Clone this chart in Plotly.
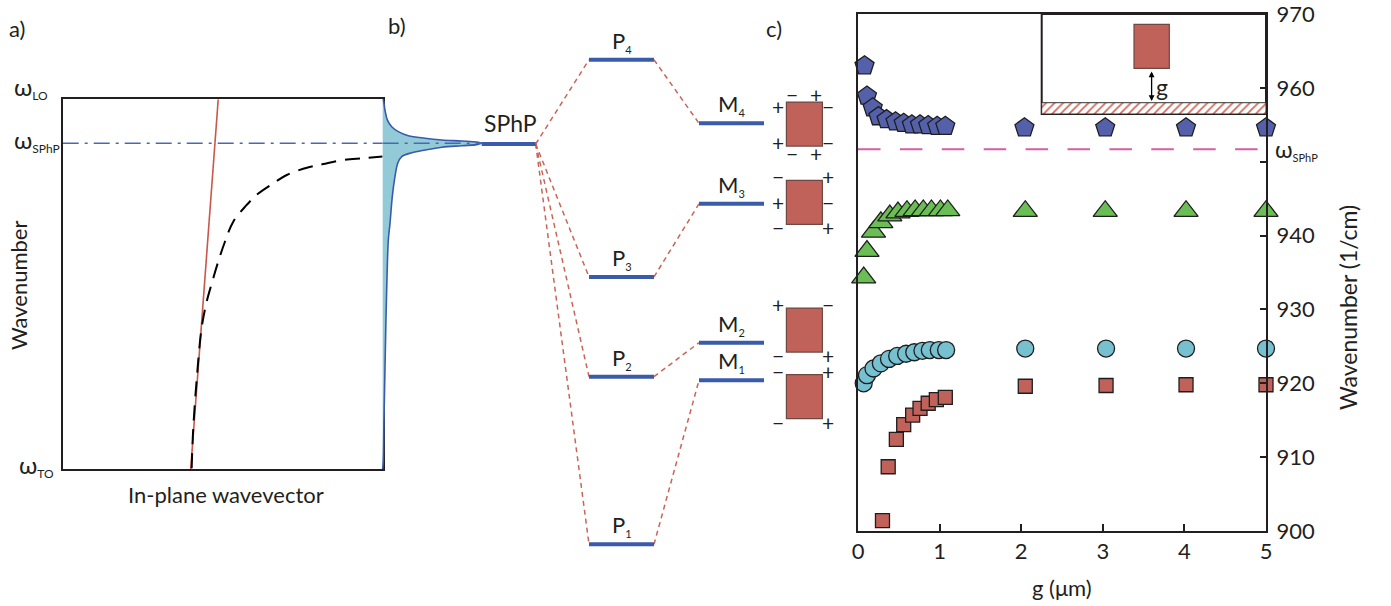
import plotly.graph_objects as go

W, H = 1391, 606
FONT = "Lato"
INK = "#231F20"
BLUE = "#3A5BA9"
RED_DASH = "#C8655B"
BRICK = "#C0625A"
BRICK_EDGE = "#6E4843"


def fx(p):
    return p / W


def fy(p):
    return 1 - p / H


# ======================= DATA =======================
# panel a : schematic dispersion inside the reststrahlen band (1/cm)
omega_TO, omega_LO, omega_SPhP_a = 797.0, 970.0, 949.4
light_k = [0.400, 0.486]
light_w = [797.0, 970.0]
sphp_k = [0.403, 0.408, 0.419, 0.434, 0.450, 0.466, 0.486, 0.507, 0.533,
          0.575, 0.606, 0.658, 0.700, 0.763, 0.814, 0.877, 0.939, 1.000]
sphp_w = [797.5, 816.2, 839.5, 862.9, 875.4, 884.0, 894.1, 903.4, 912.8,
          920.6, 925.3, 930.7, 934.6, 938.0, 939.7, 941.6, 942.4, 943.2]
# SPhP resonance (normalised intensity vs wavenumber), outline of the filled peak
spec_w = [970.0, 969.7, 965.0, 960.4, 957.2, 954.9, 953.0, 951.8, 951.0, 950.5, 950.0, 949.4,
          948.8, 948.3, 947.6, 946.3, 945.0, 943.2, 940.1, 933.8, 924.5, 912.0, 904.2,
          885.5, 866.8, 843.4, 820.1, 801.3, 797.0]
spec_I = [0.0, 0.006, 0.023, 0.047, 0.091, 0.158, 0.259, 0.428, 0.597, 0.800, 0.95, 1.0,
          0.95, 0.80, 0.597, 0.428, 0.294, 0.192, 0.152, 0.124, 0.097, 0.074, 0.057,
          0.043, 0.033, 0.023, 0.013, 0.006, 0.0]

# panel b : level diagram (1/cm)
sphp_level = 952.4
p_levels = [898.2, 920.9, 934.4, 963.8]          # P1..P4
m_levels = [920.4, 925.5, 944.3, 955.2]          # M1..M4
level_idx = ["1", "2", "3", "4"]
mode_box_w = [918.2, 927.2, 944.5, 955.1]        # block icons for M1..M4
mode_signs = [
    [("lt", "−"), ("rt", "+"), ("lb", "−"), ("rb", "+")],
    [("lt", "+"), ("rt", "−"), ("lb", "−"), ("rb", "+")],
    [("lt", "−"), ("lm", "+"), ("lb", "−"), ("rt", "+"), ("rm", "−"), ("rb", "+")],
    [("lu", "+"), ("ld", "+"), ("ru", "−"), ("rd", "−"),
     ("tl", "−"), ("tr", "+"), ("bl", "−"), ("br", "+")],
]

# panel c : mode wavenumber vs gap g
omega_SPhP_c = 951.7
g_pent = [0.08, 0.11, 0.18, 0.25, 0.35, 0.46, 0.56, 0.66, 0.76, 0.86, 0.97, 1.07, 2.04, 3.03, 4.02, 5.0]
w_pent = [963.0, 958.9, 957.3, 956.1, 955.7, 955.4, 955.2, 955.0, 955.0, 954.9, 954.8, 954.8,
          954.6, 954.6, 954.6, 954.6]
g_tri = [0.07, 0.11, 0.19, 0.28, 0.39, 0.49, 0.60, 0.70, 0.80, 0.90, 1.01, 1.10, 2.05, 3.03, 4.02, 5.0]
w_tri = [934.3, 937.9, 940.5, 941.8, 942.7, 943.1, 943.3, 943.4, 943.4, 943.4, 943.4, 943.4,
         943.3, 943.3, 943.3, 943.3]
g_circ = [0.07, 0.11, 0.19, 0.28, 0.38, 0.48, 0.59, 0.69, 0.79, 0.88, 0.99, 1.08, 2.05, 3.04, 4.02, 5.0]
w_circ = [920.0, 921.1, 922.0, 922.7, 923.3, 923.7, 924.0, 924.2, 924.4, 924.5, 924.5, 924.5,
          924.7, 924.7, 924.7, 924.7]
g_sq = [0.30, 0.37, 0.47, 0.56, 0.67, 0.76, 0.86, 0.96, 1.07, 2.05, 3.04, 4.02, 5.0]
w_sq = [901.4, 908.7, 912.4, 914.4, 915.7, 916.6, 917.3, 917.8, 918.1, 919.6, 919.7, 919.8, 919.8]
x_ticks = [0, 1, 2, 3, 4, 5]
y_ticks = [900, 910, 920, 930, 940, 950, 960, 970]
y_ticktext = ["900", "910", "920", "930", "940", "", "960", "970"]

# ======================= LAYOUT CONSTANTS =======================
PXU = 517 / 70.0                                  # px per 1/cm in panels b and c
Y2 = [970 - (H - 14) / PXU, 970 + 14 / PXU]
SPHP_COL = (481.7, 535.7)
P_COL = (589.0, 654.0)
M_COL = (699.0, 764.0)
BOX_CX, BOX_W, BOX_H = 804.4, 36.0, 44.0
SIGN_POS = {
    "lt": (-26, -25.5), "lm": (-26, 0), "lb": (-26, 25.5),
    "rt": (24, -25.5), "rm": (24, 0), "rb": (24, 25.5),
    "lu": (-26, -18), "ld": (-26, 18), "ru": (24, -18), "rd": (24, 18),
    "tl": (-12, -29.7), "tr": (11.6, -29.7), "bl": (-12, 29.3), "br": (11.6, 29.3),
}

fig = go.Figure()

# ---------- panel a ----------
fig.add_trace(go.Scatter(x=light_k, y=light_w, xaxis="x", yaxis="y", mode="lines",
                         line=dict(color="#C9574C", width=1.6)))
fig.add_trace(go.Scatter(x=sphp_k, y=sphp_w, xaxis="x", yaxis="y", mode="lines",
                         line=dict(color="black", width=2, dash="15px,9px", shape="spline")))
fig.add_trace(go.Scatter(x=[0, 1], y=[omega_SPhP_a, omega_SPhP_a], xaxis="x", yaxis="y", mode="lines",
                         line=dict(color="#4A68B0", width=1.5, dash="16px,6px,3px,6px")))
# spectrum (peak)
fig.add_trace(go.Scatter(x=spec_I, y=spec_w, xaxis="x3", yaxis="y", mode="lines", fill="toself",
                         fillcolor="#92CAD8", line=dict(color=BLUE, width=1.6, shape="spline")))
fig.add_trace(go.Scatter(x=[0, 1], y=[omega_SPhP_a, omega_SPhP_a], xaxis="x3", yaxis="y", mode="lines",
                         line=dict(color="#4A68B0", width=1.5, dash="16px,6px,3px,6px")))

# ---------- panel b ----------
cx, cy = [], []
for p, m in zip(p_levels, m_levels):
    cx += [SPHP_COL[1], P_COL[0], None, P_COL[1], M_COL[0], None]
    cy += [sphp_level, p, None, p, m, None]
fig.add_trace(go.Scatter(x=cx, y=cy, xaxis="x2", yaxis="y2", mode="lines",
                         line=dict(color=RED_DASH, width=1.5, dash="5px,4px")))
lx, ly = [SPHP_COL[0], SPHP_COL[1], None], [sphp_level, sphp_level, None]
for p in p_levels:
    lx += [P_COL[0], P_COL[1], None]
    ly += [p, p, None]
for m in m_levels:
    lx += [M_COL[0], M_COL[1], None]
    ly += [m, m, None]
fig.add_trace(go.Scatter(x=lx, y=ly, xaxis="x2", yaxis="y2", mode="lines",
                         line=dict(color=BLUE, width=4)))

# ---------- panel c ----------
fig.add_trace(go.Scatter(x=[0, 5], y=[omega_SPhP_c, omega_SPhP_c], xaxis="x4", yaxis="y4", mode="lines",
                         line=dict(color="#D35FA5", width=2, dash="22.5px,19.4px")))
mk_line = dict(color="#1E1E1E", width=1.3)
for gx, wy, sym, size, col in [
    (g_sq, w_sq, "square", 14, BRICK),
    (g_circ, w_circ, "circle", 17, "#76C0D0"),
    (g_tri, w_tri, "triangle-up", 21, "#6BBE55"),
    (g_pent, w_pent, "pentagon", 20, "#5560AA"),
]:
    fig.add_trace(go.Scatter(x=gx, y=wy, xaxis="x4", yaxis="y4", mode="markers", cliponaxis=False,
                             marker=dict(symbol=sym, size=size, color=col, line=mk_line)))

# inset substrate (hatched)
fig.add_trace(go.Scatter(x=[0, 1, 1, 0, 0], y=[0, 0, 0.113, 0.113, 0], xaxis="x5", yaxis="y5",
                         mode="lines", fill="toself", line=dict(color="#333333", width=1),
                         fillcolor="white",
                         fillpattern=dict(shape="/", fgcolor="#D06A5C", bgcolor="white",
                                          size=6, solidity=0.3)))

# ---------- shapes ----------
shapes = []
half_h = BOX_H / 2 / PXU
for w in mode_box_w:
    shapes.append(dict(type="rect", xref="x2", yref="y2", x0=BOX_CX - BOX_W / 2, x1=BOX_CX + BOX_W / 2,
                       y0=w - half_h, y1=w + half_h, fillcolor=BRICK,
                       line=dict(color=BRICK_EDGE, width=1.2), layer="above"))
shapes.append(dict(type="rect", xref="x5 domain", yref="y5 domain", x0=0, x1=1, y0=0, y1=1,
                   fillcolor="white", line=dict(color=INK, width=2), layer="below"))
shapes.append(dict(type="rect", xref="x5", yref="y5", x0=0.4115, x1=0.569, y0=0.457, y1=0.897,
                   fillcolor=BRICK, line=dict(color=BRICK_EDGE, width=1.2), layer="above"))

# ---------- annotations ----------
ann = []


def txt(x, y, s, size=21, xref="paper", yref="paper", **kw):
    d = dict(x=x, y=y, text=s, xref=xref, yref=yref, showarrow=False,
             font=dict(family=FONT, size=size, color=INK))
    d.update(kw)
    ann.append(d)


def wsub(sub, big=24, small=12):
    return f"<span style='font-size:{big}px'>ω</span><sub><span style='font-size:{small}px'>{sub}</span></sub>"


# panel letters
txt(fx(7), fy(28), "a)", size=22, xanchor="left", yanchor="middle")
txt(fx(386), fy(26), "b)", size=22, xanchor="left", yanchor="middle")
txt(fx(764), fy(28), "c)", size=22, xanchor="left", yanchor="middle")

# panel a labels
txt(fx(12), omega_LO, wsub("LO"), yref="y", xanchor="left", yanchor="middle", yshift=12)
txt(fx(12), omega_SPhP_a, wsub("SPhP"), yref="y", xanchor="left", yanchor="middle", yshift=3)
txt(fx(17), omega_TO, wsub("TO"), yref="y", xanchor="left", yanchor="middle", yshift=4)
txt(fx(18), fy(286), "Wavenumber", size=22, textangle=-90, xanchor="center", yanchor="middle")
txt(fx(226), fy(494), "In-plane wavevector", size=22, xanchor="center", yanchor="middle")

# panel b labels
txt(sum(SPHP_COL) / 2 + 2, sphp_level, "SPhP", size=23, xref="x2", yref="y2",
    xanchor="center", yanchor="bottom", yshift=5)
for i, p in enumerate(p_levels):
    txt(sum(P_COL) / 2, p, f"P<sub><span style='font-size:11px'>{level_idx[i]}</span></sub>",
        size=22, xref="x2", yref="y2", xanchor="center", yanchor="bottom", yshift=2)
for i, m in enumerate(m_levels):
    txt(sum(M_COL) / 2, m, f"M<sub><span style='font-size:11px'>{level_idx[i]}</span></sub>",
        size=22, xref="x2", yref="y2", xanchor="center", yanchor="bottom", yshift=2)
for w, signs in zip(mode_box_w, mode_signs):
    for key, s in signs:
        dx, dy = SIGN_POS[key]
        txt(BOX_CX + dx, w, s, size=21, xref="x2", yref="y2", xanchor="center",
            yanchor="middle", yshift=-dy)

# panel c labels
txt(fx(1062), fy(587), "g (μm)", size=22, xanchor="center", yanchor="middle")
txt(fx(1348), fy(308), "Wavenumber (1/cm)", size=23, textangle=-90, xanchor="center", yanchor="middle")
txt(fx(1273), omega_SPhP_c, wsub("SPhP", 23, 11), yref="y4", xanchor="left", yanchor="middle", yshift=0)

# inset
ann.append(dict(x=0.49, y=0.13, ax=0.49, ay=0.44, xref="x5", yref="y5", axref="x5", ayref="y5",
                text="", showarrow=True, arrowhead=2, startarrowhead=2, arrowside="end+start",
                arrowsize=0.9, startarrowsize=0.9, arrowwidth=1.3, arrowcolor="black"))
txt(0.536, 0.27, "g", size=23, xref="x5", yref="y5", xanchor="center", yanchor="middle")

hidden = dict(visible=False, showgrid=False, zeroline=False, automargin=False)
frame = dict(showline=True, mirror=True, linecolor=INK, linewidth=2, showgrid=False,
             zeroline=False, ticks="", showticklabels=False, automargin=False)

fig.update_layout(
    template="none",
    width=W, height=H, autosize=False,
    margin=dict(l=0, r=0, t=0, b=0, pad=0),
    paper_bgcolor="white", plot_bgcolor="rgba(0,0,0,0)",
    showlegend=False,
    font=dict(family=FONT, color=INK, size=20),
    xaxis=dict(domain=[fx(62.7), fx(382.7)], range=[0, 1], anchor="y", **frame),
    yaxis=dict(domain=[fy(469.3), fy(99.3)], range=[omega_TO, omega_LO], anchor="x", **frame),
    xaxis2=dict(domain=[0, 1], range=[0, W], anchor="y2", **hidden),
    yaxis2=dict(domain=[0, 1], range=Y2, anchor="x2", **hidden),
    xaxis3=dict(domain=[fx(380.7), fx(483.7)], range=[-0.02, 1.0202], anchor="y", **hidden),
    xaxis4=dict(domain=[fx(858), fx(1266)], range=[0, 5], anchor="y4", showline=True, mirror=True,
                linecolor=INK, linewidth=2, showgrid=False, zeroline=False, ticks="inside",
                ticklen=7, tickwidth=1.5, tickcolor=INK, tickvals=x_ticks, automargin=False,
                ticklabeloverflow="allow",
                ticktext=[str(v) for v in x_ticks], tickfont=dict(size=22, family=FONT, color=INK)),
    yaxis4=dict(domain=[fy(531), fy(14)], range=[900, 970], anchor="x4", side="right", showline=True,
                mirror=True, linecolor=INK, linewidth=2, showgrid=False, zeroline=False,
                ticks="inside", ticklen=6, tickwidth=1.5, tickcolor=INK, tickvals=y_ticks,
                automargin=False, ticklabelstandoff=4, ticklabeloverflow="allow",
                ticktext=y_ticktext, tickfont=dict(size=22, family=FONT, color=INK)),
    xaxis5=dict(domain=[fx(1041.7), fx(1266)], range=[0, 1], anchor="y5", **hidden),
    yaxis5=dict(domain=[fy(114), fy(14)], range=[0, 1], anchor="x5", **hidden),
    shapes=shapes,
    annotations=ann,
)

fig.write_html("out.html", config={"displayModeBar": False},
               post_script="document.body.style.margin='0';")
